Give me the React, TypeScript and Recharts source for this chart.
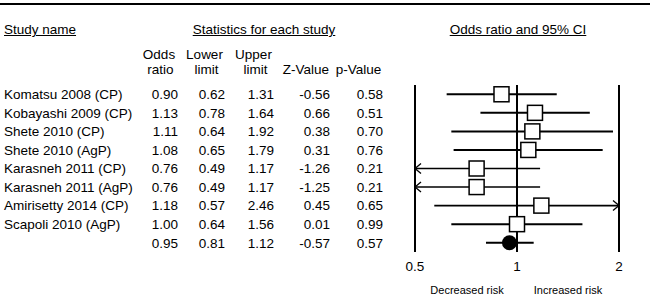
import { ScatterChart, Scatter, XAxis, YAxis, ReferenceLine } from "recharts"

const STUDY_NAMES = [
  "Komatsu 2008 (CP)",
  "Kobayashi 2009 (CP)",
  "Shete 2010 (CP)",
  "Shete 2010 (AgP)",
  "Karasneh 2011 (CP)",
  "Karasneh 2011 (AgP)",
  "Amirisetty 2014 (CP)",
  "Scapoli 2010 (AgP)",
  "",
]
const ODDS_RATIO = [0.9, 1.13, 1.11, 1.08, 0.76, 0.76, 1.18, 1.0, 0.95]
const LOWER_LIMIT = [0.62, 0.78, 0.64, 0.65, 0.49, 0.49, 0.57, 0.64, 0.81]
const UPPER_LIMIT = [1.31, 1.64, 1.92, 1.79, 1.17, 1.17, 2.46, 1.56, 1.12]
const Z_VALUE = [-0.56, 0.66, 0.38, 0.31, -1.26, -1.25, 0.45, 0.01, -0.57]
const P_VALUE = [0.58, 0.51, 0.7, 0.76, 0.21, 0.21, 0.65, 0.99, 0.57]

const X_TICKS = [0.5, 1, 2]
const X_MIN = 0.5
const X_MAX = 2

const FONT = "'Liberation Sans', Arial, sans-serif"
const FS = 13.5

const rows = STUDY_NAMES.map((name, i) => ({
  name,
  y: i,
  x: ODDS_RATIO[i],
  lo: LOWER_LIMIT[i],
  hi: UPPER_LIMIT[i],
  z: Z_VALUE[i],
  p: P_VALUE[i],
  summary: i === STUDY_NAMES.length - 1,
}))

// right edge of each number column
const COLS: { key: "x" | "lo" | "hi" | "z" | "p"; right: number }[] = [
  { key: "x", right: 178 },
  { key: "lo", right: 225 },
  { key: "hi", right: 274 },
  { key: "z", right: 330 },
  { key: "p", right: 383 },
]

function RowTick(props: any) {
  const { y, payload } = props
  const r = rows[payload.value]
  if (!r) return null
  return (
    <g fontFamily={FONT} fontSize={FS} fill="#000">
      <text x={4} y={y} dy="0.36em">{r.name}</text>
      {COLS.map((c) => (
        <text key={c.key} x={c.right} y={y} dy="0.36em" textAnchor="end">
          {r[c.key].toFixed(2)}
        </text>
      ))}
    </g>
  )
}

function CiLine(props: any) {
  const { x1, y1, x2, y2, arrowLeft, arrowRight } = props
  return (
    <g stroke="#000" fill="none">
      <line x1={x1} y1={y1} x2={x2} y2={y2} strokeWidth={arrowRight || arrowLeft ? 1.6 : 2} />
      {arrowLeft && <path d={`M${x1 + 6},${y1 - 5} L${x1},${y1} L${x1 + 6},${y1 + 5}`} strokeWidth={1.3} />}
      {arrowRight && <path d={`M${x2 - 6},${y2 - 5} L${x2},${y2} L${x2 - 6},${y2 + 5}`} strokeWidth={1.3} />}
    </g>
  )
}

function Marker(props: any) {
  const { cx, cy, payload } = props
  if (payload.summary) return <circle cx={cx} cy={cy} r={7.5} fill="#000" />
  return <rect x={cx - 7.5} y={cy - 7.5} width={15} height={15} fill="#fff" stroke="#000" strokeWidth={1.5} />
}

function Txt({ x, y, children, size = FS, underline = false }: any) {
  return (
    <div
      style={{
        position: "absolute",
        left: x,
        top: y - 8,
        transform: "translateX(-50%)",
        whiteSpace: "nowrap",
        fontFamily: FONT,
        fontSize: size,
        lineHeight: "16px",
        color: "#000",
        textDecoration: underline ? "underline" : "none",
      }}
    >
      {children}
    </div>
  )
}

export default function App() {
  return (
    <div style={{ position: "absolute", left: 0, top: 0, width: 650, height: 298, background: "#fff" }}>
      <div style={{ position: "absolute", left: 0, top: 3, width: 650, height: 2, background: "#000" }} />

      <div
        style={{
          position: "absolute",
          left: 4,
          top: 22,
          fontFamily: FONT,
          fontSize: FS,
          lineHeight: "16px",
          textDecoration: "underline",
        }}
      >
        Study name
      </div>
      <Txt x={264} y={30} underline>Statistics for each study</Txt>
      <Txt x={518} y={30} underline>Odds ratio and 95% CI</Txt>

      <Txt x={159} y={55}>Odds</Txt>
      <Txt x={160.5} y={70}>ratio</Txt>
      <Txt x={204.5} y={55}>Lower</Txt>
      <Txt x={206.5} y={70}>limit</Txt>
      <Txt x={253.5} y={55}>Upper</Txt>
      <Txt x={255.5} y={70}>limit</Txt>
      <Txt x={306} y={70}>Z-Value</Txt>
      <Txt x={358.5} y={70}>p-Value</Txt>

      <div style={{ position: "absolute", left: 0, top: 0 }}>
        <ScatterChart width={650} height={298} margin={{ top: 85, right: 31, bottom: 0, left: 0 }}>
          <XAxis
            type="number"
            dataKey="x"
            scale="log"
            domain={[X_MIN, X_MAX]}
            ticks={X_TICKS}
            allowDataOverflow
            axisLine={false}
            tickLine={false}
            height={46}
            tickMargin={3}
            tick={{ fontSize: FS, fill: "#000", fontFamily: FONT }}
          />
          <YAxis
            type="number"
            dataKey="y"
            domain={[-0.5, rows.length - 0.5]}
            reversed
            ticks={rows.map((r) => r.y)}
            interval={0}
            width={415}
            axisLine={false}
            tickLine={false}
            tick={(p: any) => <RowTick {...p} />}
          />
          {rows.map((r) => (
            <ReferenceLine
              key={"ci" + r.y}
              segment={[
                { x: Math.max(r.lo, X_MIN), y: r.y },
                { x: Math.min(r.hi, X_MAX), y: r.y },
              ]}
              shape={(p: any) => <CiLine {...p} arrowLeft={r.lo < X_MIN} arrowRight={r.hi > X_MAX} />}
            />
          ))}
          {X_TICKS.map((t) => (
            <ReferenceLine key={"v" + t} x={t} stroke="#000" strokeWidth={2} />
          ))}
          <Scatter data={rows} shape={(p: any) => <Marker {...p} />} isAnimationActive={false} />
        </ScatterChart>
      </div>

      <Txt x={467} y={290} size={11}>Decreased risk</Txt>
      <Txt x={568} y={290} size={11}>Increased risk</Txt>
    </div>
  )
}
